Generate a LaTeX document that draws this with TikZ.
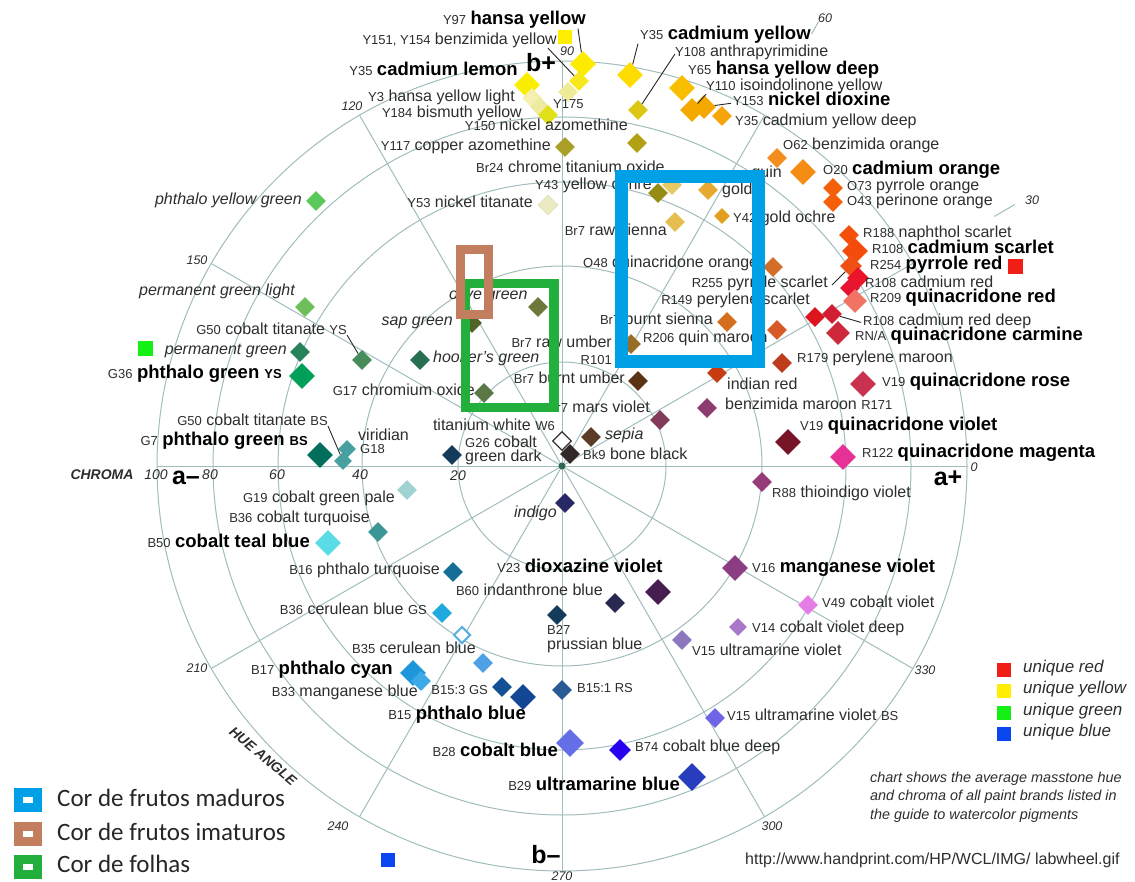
\documentclass[tikz,border=0pt]{standalone}
\usepackage{fontspec}
\setmainfont{Liberation Sans}
\newfontfamily\legfont{Carlito}
\usetikzlibrary{shapes.geometric}

\newcommand{\pcode}[1]{{\fontsize{13}{13}\selectfont #1}}
\newcommand{\bname}[1]{{\fontsize{18.5}{18.5}\selectfont\bfseries\color{black}#1}}
\definecolor{gridc}{RGB}{160,188,188}
\definecolor{labc}{RGB}{45,45,45}
\definecolor{boxblue}{RGB}{0,160,230}
\definecolor{boxbrown}{RGB}{195,125,95}
\definecolor{boxgreen}{RGB}{35,175,60}
\definecolor{uqred}{RGB}{240,30,20}
\definecolor{uqyel}{RGB}{255,238,0}
\definecolor{uqgrn}{RGB}{20,240,20}
\definecolor{uqblu}{RGB}{10,70,240}
\definecolor{dotc}{RGB}{50,100,80}

\begin{document}
\begin{tikzpicture}[x=1pt, y=-1pt,
  grid/.style={draw=gridc, line width=1pt},
  pig/.style n args={3}{diamond, inner sep=0pt, minimum size=20pt, fill={rgb,255:red,#1;green,#2;blue,#3}},
  big/.style={minimum size=26pt},
  uq/.style={rectangle, inner sep=0pt, minimum size=14pt, fill=#1},
  lbl/.style={inner sep=0pt, text=labc, font=\fontsize{16}{16}\selectfont},
  ilbl/.style={lbl, font=\fontsize{16}{16}\selectfont\itshape},
  tick/.style={inner sep=0pt, text=labc, font=\fontsize{12.5}{12.5}\selectfont\itshape},
  chr/.style={inner sep=0pt, text=labc, font=\fontsize{14}{14}\selectfont\itshape},
  axl/.style={inner sep=0pt, font=\fontsize{25}{25}\selectfont\bfseries},
  leader/.style={draw=black!85, line width=0.9pt},
  legbox/.style={rectangle, draw=#1, line width=9pt, fill=white, minimum width=19pt, minimum height=15pt, inner sep=0pt},
  leg/.style={inner sep=0pt, text=black!85, font=\legfont\fontsize{25}{25}\selectfont},
  uql/.style={inner sep=0pt, text=labc, font=\fontsize{17}{17}\selectfont\itshape},
  note/.style={inner sep=0pt, text=labc, font=\fontsize{14.4}{14.4}\selectfont\itshape},
]
\useasboundingbox (0,0) rectangle (1135,882);

% wheel
\coordinate (ctr) at (562,466);
\foreach \r in {104,200,284,349,405}
  \draw[grid] (ctr) circle (\r pt);
\foreach \a in {0,30,...,330}
  \draw[grid] (ctr) -- ++(\a:405pt);
\foreach \a/\l in {30/24,60/14}
  \draw[grid] (ctr) ++(\a:499pt) -- ++(\a:\l pt);
\node[circle, fill=dotc, inner sep=0pt, minimum size=7pt] (dot) at (ctr) {};

% hue angles and chroma
\node[tick] (h0) at (974,467) {0};
\node[tick] (h30) at (1032,200) {30};
\node[tick] (h60) at (825,18) {60};
\node[tick] (h90) at (567,51) {90};
\node[tick] (h120) at (352,106) {120};
\node[tick] (h150) at (197,260) {150};
\node[tick] (h210) at (197,668) {210};
\node[tick] (h240) at (338,826) {240};
\node[tick] (h270) at (562,876) {270};
\node[tick] (h300) at (772,826) {300};
\node[tick] (h330) at (925,670) {330};
\node[chr, font=\fontsize{14}{14}\selectfont\bfseries\itshape] (chroma) at (102,475) {CHROMA};
\node[chr] (c100) at (156,475) {100};
\node[chr] (c80) at (210,475) {80};
\node[chr] (c60) at (277,475) {60};
\node[chr] (c40) at (360,475) {40};
\node[chr] (c20) at (458,476) {20};
\node[chr, rotate=-40, font=\fontsize{14}{14}\selectfont\bfseries\itshape] (hue) at (263,756) {HUE ANGLE};
\node[axl] (bp) at (541,63) {b+};
\node[axl] (bm) at (546,855) {b\textendash};
\node[axl] (ap) at (948,478) {a+};
\node[axl] (am) at (186,478) {a\textendash};

% yellows
\node[pig={255}{235}{0}, big] (y97) at (583,64) {};
\node[lbl, anchor=mid east] (y97t) at (586,22) {\pcode{Y97} \bname{hansa yellow}};
\node[uq=uqyel] (uqy) at (565,37) {};
\node[pig={250}{232}{30}] (y151) at (579,81) {};
\node[lbl, anchor=mid east] (y151t) at (557,42) {\pcode{Y151, Y154} benzimida yellow};
\node[pig={240}{235}{150}] (y175) at (568,92) {};
\node[lbl, anchor=mid west] (y175t) at (553,106) {\pcode{Y175}};
\node[pig={250}{238}{0}, big] (y35l) at (527,85) {};
\node[lbl, anchor=mid east] (y35lt) at (518,73) {\pcode{Y35} \bname{cadmium lemon}};
\node[pig={245}{240}{175}] (y3) at (532,98) {};
\node[pig={238}{235}{160}] (y3b) at (540,107) {};
\node[lbl, anchor=mid east] (y3t) at (515,99) {\pcode{Y3} hansa yellow light};
\node[pig={225}{225}{25}] (y184) at (548,115) {};
\node[lbl, anchor=mid east] (y184t) at (522,115) {\pcode{Y184} bismuth yellow};
\node[pig={255}{220}{0}, big] (y35c) at (630,75) {};
\node[lbl, anchor=mid west] (y35ct) at (640,37) {\pcode{Y35} \bname{cadmium yellow}};
\node[pig={220}{200}{20}] (y108) at (638,110) {};
\node[lbl, anchor=mid west] (y108t) at (675,54) {\pcode{Y108} anthrapyrimidine};
\node[pig={250}{190}{0}, big] (y65) at (682,88) {};
\node[lbl, anchor=mid west] (y65t) at (688,72) {\pcode{Y65} \bname{hansa yellow deep}};
\node[pig={245}{170}{0}, minimum size=24pt] (y110) at (692,110) {};
\node[lbl, anchor=mid west] (y110t) at (706,88) {\pcode{Y110} isoindolinone yellow};
\node[pig={245}{168}{0}, minimum size=24pt] (y153) at (704,107) {};
\node[lbl, anchor=mid west] (y153t) at (733,103) {\pcode{Y153} \bname{nickel dioxine}};
\node[pig={245}{165}{10}] (y35d) at (722,116) {};
\node[lbl, anchor=mid west] (y35dt) at (735,123) {\pcode{Y35} cadmium yellow deep};
\node[pig={180}{160}{20}] (y150) at (637,143) {};
\node[lbl, anchor=mid east] (y150t) at (628,128) {\pcode{Y150} nickel azomethine};
\node[pig={170}{160}{40}] (y117) at (565,147) {};
\node[lbl, anchor=mid east] (y117t) at (551,148) {\pcode{Y117} copper azomethine};
\node[lbl, anchor=mid west] (br24t) at (476,170) {\pcode{Br24} chrome titanium oxide};
\node[pig={150}{140}{20}] (y43) at (658,193) {};
\node[pig={230}{200}{100}] (br24) at (672,185) {};
\node[lbl, anchor=mid west] (y43t) at (535,187) {\pcode{Y43} yellow ochre};
\node[pig={230}{170}{50}] (gold) at (708,190) {};
\node[lbl, anchor=mid west] (goldt) at (722,192) {gold};
\node[lbl, anchor=mid east] (quint) at (782,175) {quin};
\node[pig={235}{235}{195}, draw={rgb,255:red,215;green,215;blue,170}] (y53) at (548,205) {};
\node[lbl, anchor=mid east] (y53t) at (533,205) {\pcode{Y53} nickel titanate};
\node[pig={225}{160}{30}, minimum size=16pt] (y42) at (722,216) {};
\node[lbl, anchor=mid west] (y42t) at (733,220) {\pcode{Y42} gold ochre};

% earths and oranges
\node[pig={230}{190}{80}] (br7s) at (675,222) {};
\node[lbl, anchor=mid east] (br7st) at (667,233) {\pcode{Br7} raw sienna};
\node[pig={210}{110}{40}] (o48) at (773,267) {};
\node[lbl, anchor=mid west] (o48t) at (583,265) {\pcode{O48} quinacridone orange};
\node[lbl, anchor=mid east] (r255t) at (828,285) {\pcode{R255} pyrrole scarlet};
\node[lbl, anchor=mid east] (r149t) at (810,302) {\pcode{R149} perylene scarlet};
\node[pig={210}{110}{30}] (br7b) at (727,322) {};
\node[lbl, anchor=mid east] (br7bt) at (713,322) {\pcode{Br7} burnt sienna};
\node[pig={215}{90}{40}] (r206) at (777,330) {};
\node[lbl, anchor=mid west] (r206t) at (643,340) {\pcode{R206} quin maroon};
\node[pig={150}{110}{40}] (br7r) at (631,344) {};
\node[lbl, anchor=mid east] (br7rt) at (612,345) {\pcode{Br7} raw umber};
\node[lbl, anchor=mid east] (r101t) at (612,362) {\pcode{R101}};
\node[pig={200}{60}{20}] (r101) at (717,373) {};
\node[lbl, anchor=mid west] (r101n) at (727,387) {indian red};
\node[pig={90}{50}{20}] (br7u) at (638,381) {};
\node[lbl, anchor=mid east] (br7ut) at (625,381) {\pcode{Br7} burnt umber};
\node[pig={130}{60}{90}] (br7m) at (660,420) {};
\node[lbl, anchor=mid east] (br7mt) at (650,410) {\pcode{Br7} mars violet};
\node[pig={140}{60}{110}] (r171) at (707,408) {};
\node[lbl, anchor=mid west] (r171t) at (725,407) {benzimida maroon \pcode{R171}};
\node[pig={190}{60}{30}] (r179) at (782,363) {};
\node[lbl, anchor=mid west] (r179t) at (797,360) {\pcode{R179} perylene maroon};
\node[pig={245}{140}{30}] (o62) at (777,158) {};
\node[lbl, anchor=mid west] (o62t) at (783,147) {\pcode{O62} benzimida orange};
\node[pig={245}{140}{20}, big] (o20) at (803,172) {};
\node[lbl, anchor=mid west] (o20t) at (823,172) {\pcode{O20} \bname{cadmium orange}};
\node[pig={245}{95}{10}] (o73) at (833,188) {};
\node[lbl, anchor=mid west] (o73t) at (847,188) {\pcode{O73} pyrrole orange};
\node[pig={245}{95}{10}] (o43) at (833,202) {};
\node[lbl, anchor=mid west] (o43t) at (847,203) {\pcode{O43} perinone orange};

% reds
\node[pig={245}{80}{10}] (r188) at (849,235) {};
\node[lbl, anchor=mid west] (r188t) at (863,235) {\pcode{R188} naphthol scarlet};
\node[pig={245}{75}{10}, big] (r108s) at (855,251) {};
\node[lbl, anchor=mid west] (r108st) at (872,251) {\pcode{R108} \bname{cadmium scarlet}};
\node[pig={240}{80}{20}, minimum size=22pt] (r254) at (851,266) {};
\node[pig={235}{20}{40}, minimum size=22pt] (r254b) at (858,278) {};
\node[lbl, anchor=mid west] (r254t) at (870,267) {\pcode{R254} \bname{pyrrole red}};
\node[uq=uqred, minimum size=15pt] (uqr) at (1015,267) {};
\node[pig={230}{20}{50}] (r108c) at (850,288) {};
\node[lbl, anchor=mid west] (r108ct) at (865,285) {\pcode{R108} cadmium red};
\node[pig={240}{115}{100}, minimum size=24pt] (r209) at (855,301) {};
\node[lbl, anchor=mid west] (r209t) at (870,300) {\pcode{R209} \bname{quinacridone red}};
\node[pig={220}{20}{30}] (r108d) at (815,317) {};
\node[pig={210}{30}{50}] (r108e) at (832,314) {};
\node[lbl, anchor=mid west] (r108dt) at (863,323) {\pcode{R108} cadmium red deep};
\node[pig={205}{40}{60}, minimum size=24pt] (rna) at (838,333) {};
\node[lbl, anchor=mid west] (rnat) at (855,338) {\pcode{RN/A} \bname{quinacridone carmine}};
\node[pig={200}{50}{80}, big] (v19r) at (863,384) {};
\node[lbl, anchor=mid west] (v19rt) at (882,384) {\pcode{V19} \bname{quinacridone rose}};
\node[pig={120}{20}{40}, big] (v19v) at (788,442) {};
\node[lbl, anchor=mid west] (v19vt) at (800,428) {\pcode{V19} \bname{quinacridone violet}};
\node[pig={230}{50}{150}, big] (r122) at (843,457) {};
\node[lbl, anchor=mid west] (r122t) at (862,455) {\pcode{R122} \bname{quinacridone magenta}};
\node[pig={150}{60}{120}] (r88) at (762,482) {};
\node[lbl, anchor=mid west] (r88t) at (772,495) {\pcode{R88} thioindigo violet};

% violets and blues
\node[pig={140}{60}{130}, big] (v16) at (735,568) {};
\node[lbl, anchor=mid west] (v16t) at (752,570) {\pcode{V16} \bname{manganese violet}};
\node[pig={230}{125}{230}] (v49) at (808,605) {};
\node[lbl, anchor=mid west] (v49t) at (822,605) {\pcode{V49} cobalt violet};
\node[pig={170}{120}{200}, minimum size=18pt] (v14) at (738,627) {};
\node[lbl, anchor=mid west] (v14t) at (752,630) {\pcode{V14} cobalt violet deep};
\node[pig={140}{120}{190}] (v15) at (682,640) {};
\node[lbl, anchor=mid west] (v15t) at (692,653) {\pcode{V15} ultramarine violet};
\node[pig={110}{100}{230}] (v15b) at (715,718) {};
\node[lbl, anchor=mid west] (v15bt) at (727,718) {\pcode{V15} ultramarine violet \pcode{BS}};
\node[pig={40}{0}{240}, minimum size=22pt] (b74) at (620,750) {};
\node[lbl, anchor=mid west] (b74t) at (635,749) {\pcode{B74} cobalt blue deep};
\node[pig={40}{60}{190}, minimum size=28pt] (b29) at (692,777) {};
\node[lbl, anchor=mid east] (b29t) at (680,788) {\pcode{B29} \bname{ultramarine blue}};
\node[pig={100}{110}{230}, minimum size=28pt] (b28) at (570,743) {};
\node[lbl, anchor=mid east] (b28t) at (558,754) {\pcode{B28} \bname{cobalt blue}};
\node[pig={20}{80}{150}] (b15g) at (502,687) {};
\node[pig={20}{70}{150}, big] (b15) at (523,697) {};
\node[lbl, anchor=mid east] (b15gt) at (488,692) {\pcode{B15:3 GS}};
\node[lbl, anchor=mid east] (b15t) at (526,717) {\pcode{B15} \bname{phthalo blue}};
\node[pig={40}{90}{150}] (b15r) at (562,690) {};
\node[lbl, anchor=mid west] (b15rt) at (577,690) {\pcode{B15:1 RS}};
\node[pig={20}{60}{90}] (b27) at (557,615) {};
\node[lbl, anchor=mid west] (b27t) at (547,632) {\pcode{B27}};
\node[lbl, anchor=mid west] (b27n) at (547,647) {prussian blue};
\node[pig={40}{40}{80}] (b60) at (615,603) {};
\node[lbl, anchor=mid east] (b60t) at (603,593) {\pcode{B60} indanthrone blue};
\node[pig={70}{30}{80}, big] (v23) at (658,592) {};
\node[lbl, anchor=mid west] (v23t) at (497,570) {\pcode{V23} \bname{dioxazine violet}};
\node[pig={40}{40}{100}] (ind) at (565,503) {};
\node[ilbl, anchor=mid east] (indt) at (557,515) {indigo};
\node[pig={30}{170}{220}] (b36g) at (442,613) {};
\node[lbl, anchor=mid east] (b36gt) at (427,612) {\pcode{B36} cerulean blue \pcode{GS}};
\node[pig={255}{255}{255}, draw={rgb,255:red,90;green,175;blue,225}, line width=2pt, minimum size=17pt] (b35h) at (462,635) {};
\node[pig={80}{160}{230}] (b35) at (483,663) {};
\node[lbl, anchor=mid east] (b35t) at (476,651) {\pcode{B35} cerulean blue};
\node[pig={30}{150}{220}, big] (b17) at (413,673) {};
\node[pig={60}{170}{230}] (b17b) at (421,681) {};
\node[lbl, anchor=mid east] (b17t) at (393,672) {\pcode{B17} \bname{phthalo cyan}};
\node[lbl, anchor=mid east] (b33t) at (418,694) {\pcode{B33} manganese blue};
\node[pig={20}{110}{150}] (b16) at (453,572) {};
\node[lbl, anchor=mid east] (b16t) at (440,572) {\pcode{B16} phthalo turquoise};
\node[pig={90}{220}{230}, big] (b50) at (328,543) {};
\node[lbl, anchor=mid east] (b50t) at (310,545) {\pcode{B50} \bname{cobalt teal blue}};
\node[pig={60}{150}{150}] (b36c) at (378,532) {};
\node[lbl, anchor=mid east] (b36ct) at (370,520) {\pcode{B36} cobalt turquoise};
\node[uq=uqblu] (uqb) at (388,860) {};

% neutrals
\node[pig={160}{210}{210}] (g19) at (407,490) {};
\node[lbl, anchor=mid east] (g19t) at (395,500) {\pcode{G19} cobalt green pale};
\node[pig={20}{60}{90}] (g26) at (452,455) {};
\node[lbl, anchor=mid west] (g26t) at (465,445) {\pcode{G26} cobalt};
\node[lbl, anchor=mid west] (g26n) at (465,459) {green dark};
\node[pig={255}{255}{255}, draw=black!80, line width=1.2pt, minimum size=19pt] (w6) at (562,441) {};
\node[lbl, anchor=mid east] (w6t) at (555,428) {titanium white \pcode{W6}};
\node[pig={50}{40}{40}] (bk9) at (570,454) {};
\node[lbl, anchor=mid west] (bk9t) at (583,457) {\pcode{Bk9} bone black};
\node[pig={90}{60}{40}] (sep) at (591,437) {};
\node[ilbl, anchor=mid west] (sept) at (605,437) {sepia};

% greens
\node[pig={70}{160}{160}, minimum size=18pt] (g18) at (347,449) {};
\node[pig={70}{160}{160}, minimum size=18pt] (g18b) at (343,461) {};
\node[lbl, anchor=mid west] (g18t) at (358,438) {viridian};
\node[lbl, anchor=mid west] (g18n) at (360,451) {\pcode{G18}};
\node[pig={0}{110}{90}, big] (g7) at (320,455) {};
\node[lbl, anchor=mid east] (g7t) at (308,443) {\pcode{G7} \bname{phthalo green \pcode{BS}}};
\node[lbl, anchor=mid east] (g50bt) at (328,423) {\pcode{G50} cobalt titanate \pcode{BS}};
\node[pig={0}{160}{90}, big] (g36) at (302,376) {};
\node[lbl, anchor=mid east] (g36t) at (282,376) {\pcode{G36} \bname{phthalo green \pcode{YS}}};
\node[pig={40}{130}{90}] (pg) at (300,352) {};
\node[ilbl, anchor=mid east] (pgt) at (287,352) {permanent green};
\node[uq=uqgrn, minimum size=15pt] (uqg) at (145,349) {};
\node[pig={70}{140}{90}] (g50y) at (362,360) {};
\node[lbl, anchor=mid east] (g50yt) at (347,332) {\pcode{G50} cobalt titanate \pcode{YS}};
\node[pig={110}{190}{90}] (pgl) at (305,307) {};
\node[ilbl, anchor=mid east] (pglt) at (295,293) {permanent green light};
\node[pig={90}{200}{90}] (pyg) at (316,201) {};
\node[ilbl, anchor=mid east] (pygt) at (302,202) {phthalo yellow green};
\node[pig={40}{110}{80}] (hk) at (420,360) {};
\node[ilbl, anchor=mid west] (hkt) at (433,360) {hooker's green};
\node[pig={90}{120}{70}] (g17) at (484,393) {};
\node[lbl, anchor=mid east] (g17t) at (475,393) {\pcode{G17} chromium oxide};
\node[pig={80}{100}{40}] (sap) at (472,323) {};
\node[ilbl, anchor=mid east] (sapt) at (453,323) {sap green};
\node[pig={110}{120}{60}] (olv) at (538,307) {};
\node[ilbl, anchor=mid west] (olvt) at (449,297) {olive green};

% leaders
\draw[leader] ([xshift=-8pt]y97t.south east) -- (y97);
\draw[leader] ([xshift=-9pt]y151t.south east) -- (y151);
\draw[leader] ([xshift=-2pt]y35ct.south west) -- (y35c);
\draw[leader] (y108t.mid west) -- (y108);
\draw[leader] (y110t.south west) -- (y110);
\draw[leader, shorten >=2pt] (y153) -- (y153t.mid west);
\draw[leader] ([xshift=4pt]r255t.mid east) -- (r254);
\draw[leader, shorten >=2pt] (r108e) -- (r108dt.mid west);
\draw[leader] (g50yt.south east) -- (g50y);
\draw[leader] (g50bt.south east) -- (g18b);

% highlight boxes
\draw[boxgreen, line width=9.5pt] (465.5,283.5) rectangle (554,407.5);
\draw[boxbrown, line width=8.5pt] (460.5,249.5) rectangle (488.5,314.5);
\draw[boxblue, line width=13pt] (621.5,177) rectangle (758.5,361.5);

% legends
\node[legbox=boxblue] (lm) at (28,800) {};
\node[leg, anchor=mid west] (lmt) at (57,804) {Cor de frutos maduros};
\node[legbox=boxbrown] (li) at (28,834) {};
\node[leg, anchor=mid west] (lit) at (57,838) {Cor de frutos imaturos};
\node[legbox=boxgreen] (lf) at (28,867) {};
\node[leg, anchor=mid west] (lft) at (57,870) {Cor de folhas};

\node[uq=uqred] (ur) at (1004,670) {};
\node[uql, anchor=mid west] (urt) at (1023,670) {unique red};
\node[uq=uqyel] (uy) at (1004,691) {};
\node[uql, anchor=mid west] (uyt) at (1023,691) {unique yellow};
\node[uq=uqgrn] (ug) at (1004,713) {};
\node[uql, anchor=mid west] (ugt) at (1023,713) {unique green};
\node[uq=uqblu] (ub) at (1004,734) {};
\node[uql, anchor=mid west] (ubt) at (1023,734) {unique blue};

\node[note, anchor=mid west] (n1) at (870,780) {chart shows the average masstone hue};
\node[note, anchor=mid west] (n2) at (870,798) {and chroma of all paint brands listed in};
\node[note, anchor=mid west] (n3) at (870,817) {the guide to watercolor pigments};
\node[lbl, anchor=mid west] (url) at (745,862) {http://www.handprint.com/HP/WCL/IMG/ labwheel.gif};
\end{tikzpicture}
\end{document}
